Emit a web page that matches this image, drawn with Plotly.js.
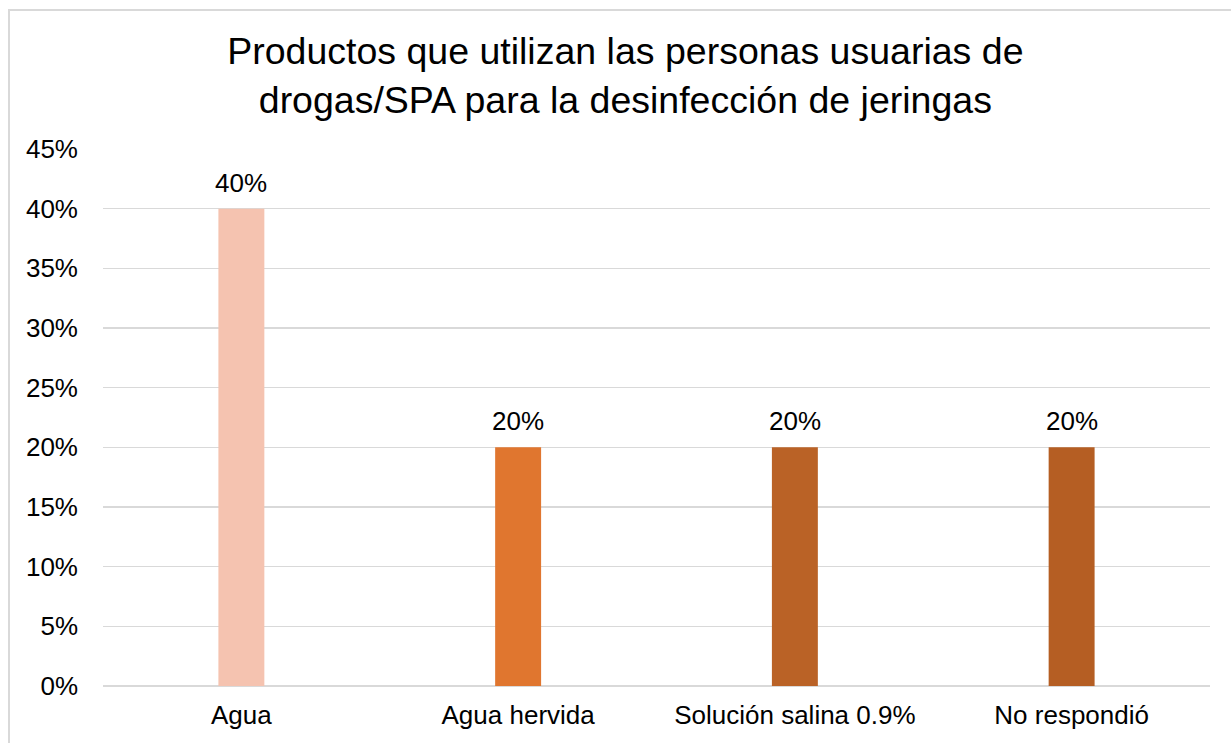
<!DOCTYPE html>
<html>
<head>
<meta charset="utf-8">
<script src="https://cdn.plot.ly/plotly-3.0.1.min.js"></script>
<style>
  body { margin: 0; background: #fff; }
  #frame { position: absolute; left: 8px; top: 9px; width: 1240px; height: 760px; border: 2px solid #d9d9d9; }
  #chart { position: absolute; left: 0; top: 0; width: 1231px; height: 743px; }
</style>
</head>
<body>
<div id="frame"></div>
<div id="chart"></div>
<script>
// Datos del gráfico
const categorias = ["Agua", "Agua hervida", "Solución salina 0.9%", "No respondió"];
const porcentajes = [0.40, 0.20, 0.20, 0.20];
const colores = ["#F5C3B0", "#E0762F", "#BA6226", "#B55E23"];

const fuente = "Liberation Sans, Arial, sans-serif";

const data = [
    {
        x: categorias,
        y: porcentajes,
        type: "bar",
        marker: { color: colores },
        hoverinfo: "none",
    },
];

// etiquetas de datos encima de cada barra
const etiquetas = categorias.map((c, i) => ({
    x: c,
    y: porcentajes[i],
    text: Math.round(porcentajes[i] * 100) + "%",
    showarrow: false,
    yanchor: "bottom",
    yshift: 9,
    font: { family: fuente, size: 26, color: "#000" },
}));

const layout = {
    width: 1231,
    height: 743,
    paper_bgcolor: "rgba(0,0,0,0)",
    plot_bgcolor: "rgba(0,0,0,0)",
    margin: { l: 103, r: 21, t: 149, b: 57 },
    bargap: 0.834,
    showlegend: false,
    annotations: etiquetas,
    title: {
        text: "Productos que utilizan las personas usuarias de<br>drogas/SPA para la desinfección de jeringas",
        font: { family: fuente, size: 37.5, color: "#000" },
        x: 0.508,
        xanchor: "center",
        y: 0.914,
        yanchor: "middle",
    },
    xaxis: {
        tickfont: { family: fuente, size: 26, color: "#000" },
        showline: false,
        ticks: "",
        ticklabelstandoff: 11,
    },
    yaxis: {
        range: [0, 0.45],
        dtick: 0.05,
        tickformat: ".0%",
        tickfont: { family: fuente, size: 26, color: "#000" },
        gridcolor: "#D9D9D9",
        gridwidth: 1.5,
        zeroline: true,
        zerolinecolor: "#D9D9D9",
        zerolinewidth: 1.5,
        ticks: "",
        ticklabelstandoff: 24,
        showline: false,
    },
};

Plotly.newPlot("chart", data, layout, { displayModeBar: false, staticPlot: true });
</script>
</body>
</html>
